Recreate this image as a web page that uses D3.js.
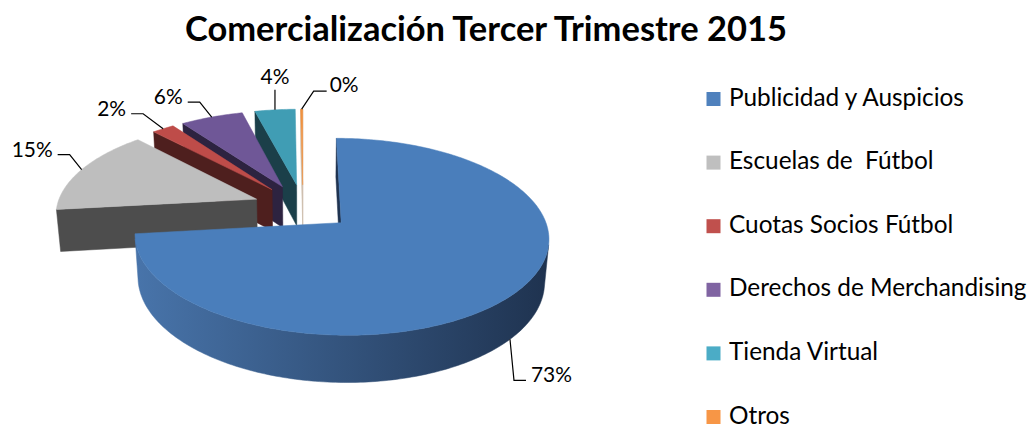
<!DOCTYPE html>
<html>
<head>
<meta charset="utf-8">
<script src="https://cdn.jsdelivr.net/npm/d3@7"></script>
<style>
  body { margin: 0; background: #fff; }
  svg { display: block; }
</style>
</head>
<body>
<div id="chart"></div>
<script>
const title = "Comercialización Tercer Trimestre 2015"
const categories = ["Publicidad y Auspicios", "Escuelas de  Fútbol", "Cuotas Socios Fútbol",
                    "Derechos de Merchandising", "Tienda Virtual", "Otros"]
const values = [73.2, 14.8, 2.1, 5.9, 3.8, 0.2]   // percent of total

// colours (legend swatches, top faces, cut faces, outer rim ramp dark->light)
const legendColors = ["#4f81bd", "#bfbfbf", "#c0504d", "#8064a2", "#4bacc6", "#f79646"]
const topColors = ["#4a7ebb", "#bebebe", "#be4c49", "#6f5797", "#409db4", "#f0913f"]
const wallColors = ["#1f3350", "#4d4d4d", "#4e1f1e", "#2d2340", "#1b3f49", "#cdbcab"]
const rimRamp = [["#1f3350", "#4874aa"], ["#4d4d4d", "#8e8e8e"], ["#4e1f1e", "#8a3a38"],
                 ["#2d2340", "#584478"], ["#1b3f49", "#357f91"], ["#7a4a22", "#c9803e"]]

const width = 1031
const height = 428
const font = "Lato, 'Open Sans', sans-serif"

// 3d pie set-up
const R = 200          // radius
const H = 48           // thickness
const explode = 50     // distance each slice is pulled out
const camD = 1270      // camera distance (perspective)
const sinT = 0.46, cosT = Math.sqrt(1 - sinT * sinT)
const cx = 303, cy = 207

const svg = d3.select("#chart")
  .append("svg")
  .attr("width", width)
  .attr("height", height)
const defs = svg.append("defs")

function fitSize(text, weight, target) {
  const t = svg.append("text")
    .attr("font-family", font)
    .attr("font-weight", weight)
    .attr("font-size", 100)
    .style("white-space", "pre")
    .text(text)
  const w = t.node().getComputedTextLength()
  t.remove()
  return 100 * target / w
}

// world (x right, y up, z away) -> screen
function proj(p) {
  const depth = camD + p[2] * cosT - p[1] * sinT
  const k = camD / depth
  return [cx + p[0] * k, cy - (p[1] * cosT + p[2] * sinT) * k, depth]
}
const cam = [0, camD * sinT, -camD * cosT]
function facing(n, p) {
  return n[0] * (cam[0] - p[0]) + n[2] * (cam[2] - p[2]) > 0
}

const pie = d3.pie().sort(null).value(d => d).startAngle(0).endAngle(2 * Math.PI)
const arcs = pie(values)

const slices = arcs.map((a, i) => {
  const mid = (a.startAngle + a.endAngle) / 2
  const ox = explode * Math.sin(mid), oz = explode * Math.cos(mid)
  const pt = (th, r, y) => [ox + r * Math.sin(th), y, oz + r * Math.cos(th)]
  const n = Math.max(2, Math.ceil((a.endAngle - a.startAngle) / (Math.PI / 180)))
  const angles = d3.range(n + 1).map(j => a.startAngle + (a.endAngle - a.startAngle) * j / n)
  return { i, a, mid, pt, ox, oz, angles, value: a.data }
})

// walls: outer rim (visible runs, shaded with a gradient) and the two cut faces
const walls = []
slices.forEach(s => {
  // rim gradient across the slice's full width on screen
  const gid = "rim" + s.i
  const left = proj([s.ox - R, 0, s.oz])[0], right = proj([s.ox + R, 0, s.oz])[0]
  const grad = defs.append("linearGradient")
    .attr("id", gid)
    .attr("gradientUnits", "userSpaceOnUse")
    .attr("x1", left).attr("x2", right).attr("y1", 0).attr("y2", 0)
  grad.append("stop").attr("offset", 0).attr("stop-color", rimRamp[s.i][1])
  grad.append("stop").attr("offset", 1).attr("stop-color", rimRamp[s.i][0])

  let run = []
  const flush = () => {
    if (run.length > 1) {
      const topArc = run.map(th => s.pt(th, R, 0))
      const botArc = run.slice().reverse().map(th => s.pt(th, R, -H))
      const pm = s.pt(run[Math.floor(run.length / 2)], R, -H / 2)
      walls.push({ pts: topArc.concat(botArc), depth: proj(pm)[2], fill: `url(#${gid})` })
    }
    run = []
  }
  s.angles.forEach(th => {
    const p = s.pt(th, R, -H / 2)
    if (facing([Math.sin(th), 0, Math.cos(th)], p)) run.push(th)
    else flush()
  })
  flush()

  const a0 = s.a.startAngle, a1 = s.a.endAngle
  const cuts = [[a0, [-Math.cos(a0), 0, Math.sin(a0)]], [a1, [Math.cos(a1), 0, -Math.sin(a1)]]]
  cuts.forEach(([th, nrm]) => {
    const pm = s.pt(th, R / 2, -H / 2)
    if (!facing(nrm, pm)) return
    const quad = [s.pt(th, 0, 0), s.pt(th, R, 0), s.pt(th, R, -H), s.pt(th, 0, -H)]
    walls.push({ pts: quad, depth: proj(pm)[2], fill: wallColors[s.i] })
  })
})
walls.sort((a, b) => b.depth - a.depth)

const line = d3.line()
const pieG = svg.append("g")

pieG.selectAll("path.wall")
  .data(walls)
  .join("path")
  .attr("class", "wall")
  .attr("d", d => line(d.pts.map(proj).map(p => [p[0], p[1]])) + "Z")
  .attr("fill", d => d.fill)
  .attr("stroke", d => d.fill)
  .attr("stroke-width", 0.5)

pieG.selectAll("path.top")
  .data(slices)
  .join("path")
  .attr("class", "top")
  .attr("d", s => {
    const pts = [s.pt(0, 0, 0)].concat(s.angles.map(th => s.pt(th, R, 0)))
    return line(pts.map(proj).map(p => [p[0], p[1]])) + "Z"
  })
  .attr("fill", s => topColors[s.i])
  .attr("stroke", s => topColors[s.i])
  .attr("stroke-width", 0.5)

// data labels with leader lines
const labelSize = fitSize("15%", 400, 41)
const total = d3.sum(values)
const labelG = svg.append("g")
slices.forEach(s => {
  const txt = Math.round(s.value / total * 100) + "%"
  const sn = Math.sin(s.mid)
  let anchor, elbow, end, tx, ty, ta
  if (Math.cos(s.mid) < 0) {
    anchor = proj(s.pt(s.mid, R, -H))
    elbow = [anchor[0] + 4, anchor[1] + 41]
    end = [elbow[0] + 12, elbow[1]]
    tx = end[0] + 5; ty = end[1] + 2; ta = "start"
  } else {
    anchor = proj(s.pt(s.mid, R, 0))
    if (sn < -0.2) {
      // steeper slices get a longer diagonal so labels do not crowd
      const dx = sn > -0.7 && sn < -0.5 ? -20 : -12
      elbow = [anchor[0] + dx, anchor[1] - 15]
      end = [elbow[0] - 12, elbow[1]]
      tx = end[0] - 5; ty = end[1] + 2; ta = "end"
    } else if (sn > -0.05) {
      elbow = [anchor[0] + 12, anchor[1] - 18]
      end = [elbow[0] + 13, elbow[1]]
      tx = end[0] + 3; ty = end[1] + 1; ta = "start"
    } else {
      elbow = [anchor[0], anchor[1] - 20]
      end = elbow
      tx = elbow[0]; ty = elbow[1] - 6; ta = "middle"
    }
  }
  labelG.append("path")
    .attr("d", line([[anchor[0], anchor[1]], elbow, end]))
    .attr("fill", "none")
    .attr("stroke", "#000")
    .attr("stroke-width", 1.2)
  labelG.append("text")
    .attr("x", tx)
    .attr("y", ty)
    .attr("text-anchor", ta)
    .attr("font-family", font)
    .attr("font-size", labelSize)
    .attr("fill", "#000")
    .text(txt)
})

// title
svg.append("text")
  .attr("x", 486)
  .attr("y", 41)
  .attr("text-anchor", "middle")
  .attr("font-family", font)
  .attr("font-weight", 700)
  .attr("font-size", fitSize(title, 700, 602))
  .attr("fill", "#000")
  .text(title)

// legend
const legendSize = fitSize(categories[0], 400, 235)
const rowY = d3.scalePoint().domain(categories).range([105.5, 105.5 + 63.6 * 5])
const legend = svg.append("g")
  .selectAll("g")
  .data(categories)
  .join("g")
  .attr("transform", d => `translate(0,${rowY(d)})`)
legend.append("rect")
  .attr("x", 706.5)
  .attr("y", -13.5)
  .attr("width", 14)
  .attr("height", 14)
  .attr("fill", (d, i) => legendColors[i])
legend.append("text")
  .attr("x", 729)
  .attr("y", 0)
  .attr("font-family", font)
  .attr("font-size", legendSize)
  .attr("fill", "#000")
  .style("white-space", "pre")
  .text(d => d)
</script>
</body>
</html>
